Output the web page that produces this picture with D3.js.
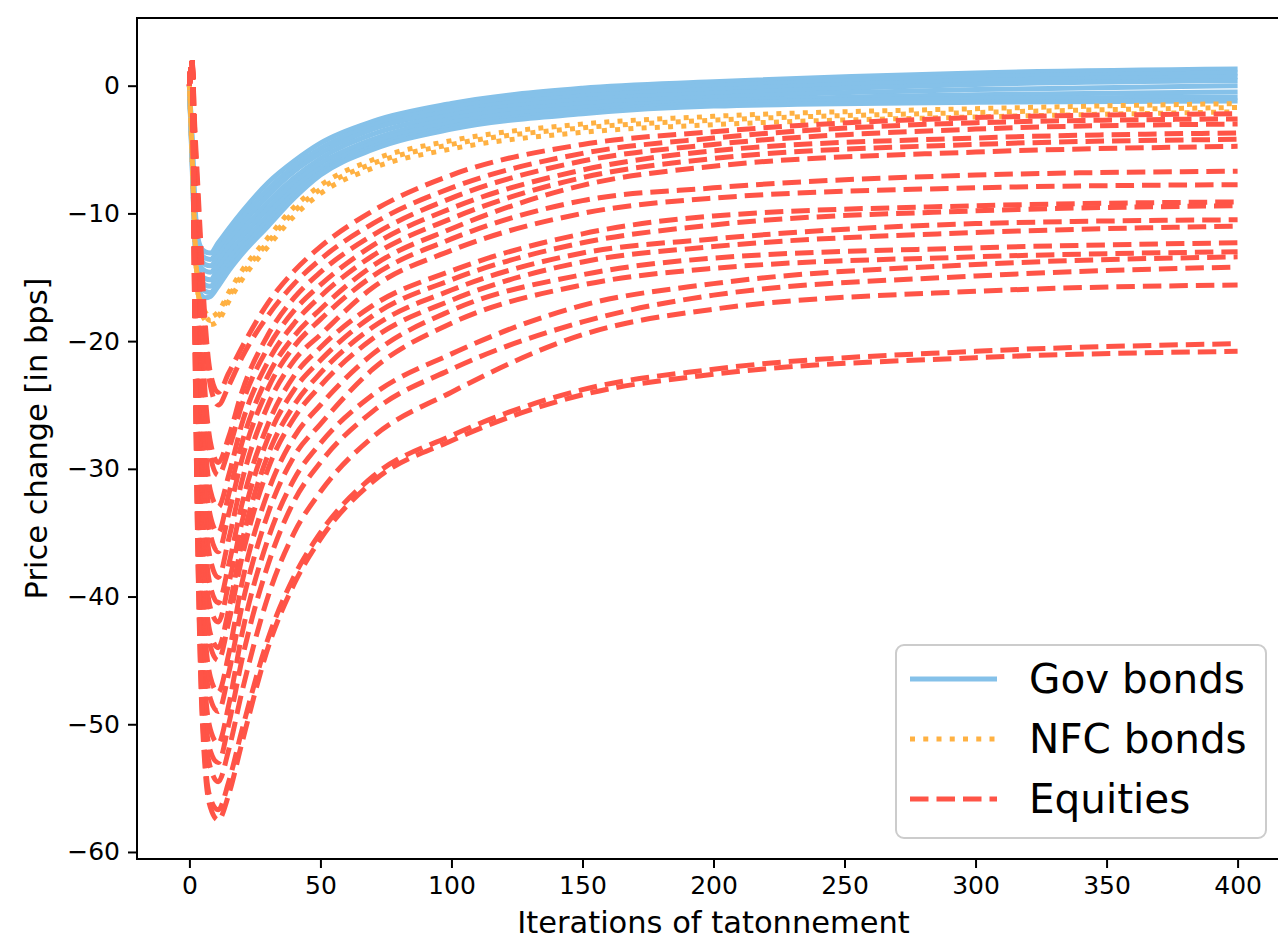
<!DOCTYPE html>
<html>
<head>
<meta charset="utf-8">
<script src="https://cdn.jsdelivr.net/npm/d3@7"></script>
<style>
  body { margin: 0; background: #fff; }
  svg { display: block; }
  text { font-family: "DejaVu Sans", sans-serif; fill: #000; }
</style>
</head>
<body>
<svg id="chart" width="1278" height="941"></svg>
<script>
const iters = [0, 1, 2, 3, 4, 6, 8, 11, 15, 20, 30, 40, 50, 70, 100, 150, 200, 300, 400];

const govBonds = [
    [0, -4.0, -9.0, -11.5, -12.5, -13.0, -13.1, -12.3, -11.2, -9.9, -7.6, -5.9, -4.5, -2.8, -1.4, -0.2, 0.3, 1.0, 1.3],
    [0, -4.3, -9.4, -12.0, -13.0, -13.5, -13.6, -12.8, -11.7, -10.4, -8.1, -6.3, -4.9, -3.1, -1.7, -0.5, 0.0, 0.7, 1.0],
    [0, -4.6, -9.9, -12.5, -13.5, -14.0, -14.1, -13.3, -12.2, -10.9, -8.6, -6.7, -5.3, -3.4, -2.0, -0.8, -0.3, 0.4, 0.7],
    [0, -4.9, -10.3, -13.0, -14.1, -14.5, -14.6, -13.8, -12.6, -11.4, -9.1, -7.2, -5.7, -3.8, -2.3, -1.1, -0.6, 0.1, 0.4],
    [0, -5.1, -10.7, -13.5, -14.7, -15.1, -15.2, -14.3, -13.1, -11.9, -9.6, -7.6, -6.1, -4.2, -2.6, -1.4, -0.9, -0.3, 0.0],
    [0, -5.4, -11.1, -14.0, -15.2, -15.6, -15.7, -14.8, -13.6, -12.4, -10.1, -8.0, -6.5, -4.5, -2.9, -1.7, -1.2, -0.7, -0.5],
    [0, -5.7, -11.6, -14.5, -15.7, -16.1, -16.2, -15.3, -14.1, -12.8, -10.6, -8.4, -6.8, -4.8, -3.2, -2.0, -1.4, -1.0, -0.9],
    [0, -6.0, -12.0, -15.0, -16.2, -16.6, -16.5, -15.7, -14.5, -13.2, -11.0, -8.8, -7.0, -5.0, -3.4, -2.2, -1.6, -1.3, -1.2]
];

const nfcBonds = [
    [0, -5.0, -11.0, -15.0, -16.8, -17.7, -18.1, -17.7, -16.2, -14.5, -11.9, -9.5, -7.8, -5.8, -4.3, -3.0, -2.4, -1.8, -1.4],
    [0, -5.3, -11.35, -15.35, -17.15, -18.0, -18.4, -18.05, -16.55, -14.85, -12.25, -9.85, -8.1, -6.1, -4.6, -3.3, -2.7, -2.1, -1.7],
    [0, -5.6, -11.7, -15.7, -17.5, -18.35, -18.7, -18.4, -16.9, -15.2, -12.6, -10.2, -8.45, -6.45, -4.95, -3.65, -3.05, -2.45, -2.05]
];

const equities = [
    [0, 2, -3.0, -7.0, -11.0, -18.5, -22.5, -24.0, -22.5, -20.5, -17.0, -14.5, -12.6, -9.8, -7.0, -4.6, -3.6, -2.5, -2.2],
    [0, 2, -3.5, -8.0, -12.0, -19.5, -23.5, -25.0, -23.5, -21.3, -18.0, -15.5, -13.6, -10.8, -8.0, -5.3, -4.1, -2.9, -2.6],
    [0, 2, -5.4, -11.3, -16.3, -24.1, -27.9, -29.5, -27.5, -24.0, -19.5, -16.6, -14.6, -11.7, -8.8, -5.9, -4.6, -3.4, -3.0],
    [0, 2, -5.9, -12.1, -17.3, -25.2, -29.0, -30.5, -28.5, -25.0, -20.5, -17.6, -15.6, -12.5, -9.6, -6.6, -5.1, -4.1, -3.7],
    [0, 2, -7.0, -14.3, -19.9, -28.0, -31.7, -33.0, -30.5, -26.5, -21.6, -18.6, -16.5, -13.3, -10.4, -7.2, -5.7, -4.6, -4.2],
    [0, 2, -8.0, -15.9, -21.9, -30.0, -33.7, -35.0, -32.0, -28.0, -22.7, -19.6, -17.5, -14.1, -11.2, -7.8, -6.3, -5.2, -4.75],
    [0, 2, -8.6, -17.0, -23.2, -31.4, -35.1, -36.5, -33.5, -29.3, -23.7, -20.4, -18.3, -14.9, -12.0, -9.0, -8.0, -7.0, -6.7],
    [0, 2, -9.5, -18.6, -25.2, -33.5, -37.1, -38.5, -35.5, -31.0, -25.0, -21.5, -19.5, -15.8, -12.9, -10.0, -8.8, -8.0, -7.75],
    [0, 2, -10.4, -20.2, -27.2, -35.7, -39.2, -40.5, -37.5, -32.8, -26.5, -22.7, -20.5, -17.2, -14.5, -11.6, -10.2, -9.4, -9.1],
    [0, 2, -11.1, -21.6, -28.8, -37.4, -40.9, -42.0, -39.0, -34.2, -27.6, -23.8, -21.5, -18.0, -15.2, -12.3, -10.9, -9.8, -9.4],
    [0, 2, -12.0, -23.2, -30.8, -39.5, -42.9, -44.0, -41.0, -35.8, -28.9, -25.0, -22.5, -18.9, -16.0, -13.1, -12.0, -10.8, -10.5],
    [0, 2, -12.5, -24.0, -31.8, -40.6, -43.9, -45.0, -42.0, -37.0, -30.0, -26.0, -23.5, -19.8, -16.8, -13.8, -12.6, -11.5, -11.0],
    [0, 2, -13.5, -25.9, -34.1, -43.0, -46.3, -47.5, -44.5, -39.0, -31.8, -27.5, -25.0, -21.0, -17.6, -14.8, -13.5, -12.7, -12.3],
    [0, 2, -14.3, -27.3, -35.8, -44.8, -48.0, -49.0, -46.0, -40.8, -33.5, -29.0, -26.5, -22.2, -18.6, -15.6, -14.3, -13.4, -13.0],
    [0, 2, -15.3, -29.1, -38.1, -47.2, -50.4, -51.5, -48.5, -43.0, -35.5, -30.8, -28.0, -24.2, -21.0, -17.2, -15.5, -14.0, -13.4],
    [0, 2, -16.0, -30.5, -39.7, -49.0, -52.1, -53.0, -50.0, -45.0, -37.5, -32.5, -29.5, -25.5, -22.2, -18.5, -16.4, -14.9, -14.2],
    [0, 2, -16.7, -31.6, -41.0, -50.4, -53.4, -54.5, -52.0, -47.5, -40.0, -35.0, -31.8, -27.5, -24.0, -19.5, -17.5, -16.1, -15.6],
    [0, 2, -17.7, -33.5, -43.3, -52.8, -55.8, -56.7, -54.5, -50.5, -43.3, -38.4, -35.0, -30.6, -27.4, -23.8, -22.2, -20.8, -20.2],
    [0, 2, -18.0, -34.0, -44.0, -53.5, -56.5, -57.5, -55.5, -51.5, -44.0, -39.0, -35.5, -31.0, -27.8, -24.2, -22.6, -21.3, -20.8]
];

const xTicks = [0, 50, 100, 150, 200, 250, 300, 350, 400];
const yTicks = [-60, -50, -40, -30, -20, -10, 0];
const legendLabels = ["Gov bonds", "NFC bonds", "Equities"];

const colors = { gov: "#85c1e9", nfc: "#ffb142", eq: "#ff5447" };
const lw = 5;
const dotted = `${lw} ${lw * 1.65}`;
const dashed = `${lw * 3.7} ${lw * 1.6}`;

const svg = d3.select("#chart");
const plot = { left: 137, top: 18, right: 1290, bottom: 859 };

const x = d3.scaleLinear().domain([-20, 420]).range([plot.left, plot.right]);
const y = d3.scaleLinear().domain([-60.55, 5.3]).range([plot.bottom, plot.top]);

const line = d3.line()
    .x((d, i) => x(iters[i]))
    .y(d => y(d))
    .curve(d3.curveMonotoneX);

// Gov bonds first, then NFC, equities on top
svg.append("g").selectAll("path")
    .data(govBonds)
    .enter().append("path")
    .attr("d", line)
    .attr("fill", "none")
    .attr("stroke", colors.gov)
    .attr("stroke-width", lw);

svg.append("g").selectAll("path")
    .data(nfcBonds)
    .enter().append("path")
    .attr("d", line)
    .attr("fill", "none")
    .attr("stroke", colors.nfc)
    .attr("stroke-width", lw)
    .attr("stroke-dasharray", dotted)
    .attr("stroke-dashoffset", (d, i) => i * 4);

svg.append("g").selectAll("path")
    .data(equities)
    .enter().append("path")
    .attr("d", line)
    .attr("fill", "none")
    .attr("stroke", colors.eq)
    .attr("stroke-width", lw)
    .attr("stroke-dasharray", dashed);

// axes
const xAxis = svg.append("g")
    .attr("transform", `translate(0,${plot.bottom})`)
    .call(d3.axisBottom(x).tickValues(xTicks).tickSize(9).tickPadding(8).tickSizeOuter(0));
const yAxis = svg.append("g")
    .attr("transform", `translate(${plot.left},0)`)
    .call(d3.axisLeft(y).tickValues(yTicks).tickSize(9).tickPadding(8).tickSizeOuter(0));

[xAxis, yAxis].forEach(g => {
    g.select(".domain").remove();
    g.selectAll(".tick line").attr("stroke", "#000").attr("stroke-width", 2);
    g.selectAll(".tick text").attr("font-size", 25).attr("font-family", "DejaVu Sans");
});

// spines
svg.append("rect")
    .attr("x", plot.left)
    .attr("y", plot.top)
    .attr("width", plot.right - plot.left)
    .attr("height", plot.bottom - plot.top)
    .attr("fill", "none")
    .attr("stroke", "#000")
    .attr("stroke-width", 2);

svg.append("text")
    .attr("x", (plot.left + plot.right) / 2)
    .attr("y", 933)
    .attr("text-anchor", "middle")
    .attr("font-size", 30.5)
    .text("Iterations of tatonnement");

svg.append("text")
    .attr("transform", `translate(47,${(plot.top + plot.bottom) / 2}) rotate(-90)`)
    .attr("text-anchor", "middle")
    .attr("font-size", 30.5)
    .text("Price change [in bps]");

// legend
const legend = svg.append("g");
legend.append("rect")
    .attr("x", 896).attr("y", 645)
    .attr("width", 370).attr("height", 193)
    .attr("rx", 8)
    .attr("fill", "#fff").attr("fill-opacity", 0.8)
    .attr("stroke", "#cccccc").attr("stroke-width", 2);

const legendItems = [
    { label: legendLabels[0], color: colors.gov, dash: null },
    { label: legendLabels[1], color: colors.nfc, dash: dotted },
    { label: legendLabels[2], color: colors.eq, dash: dashed }
];
const legendY = [679, 739, 799];

legendItems.forEach((d, i) => {
    legend.append("line")
        .attr("x1", 910).attr("x2", 997)
        .attr("y1", legendY[i]).attr("y2", legendY[i])
        .attr("stroke", d.color)
        .attr("stroke-width", lw)
        .attr("stroke-dasharray", d.dash);
    legend.append("text")
        .attr("x", 1029)
        .attr("y", legendY[i] + 14)
        .attr("font-size", 40.5)
        .text(d.label);
});
</script>
</body>
</html>
